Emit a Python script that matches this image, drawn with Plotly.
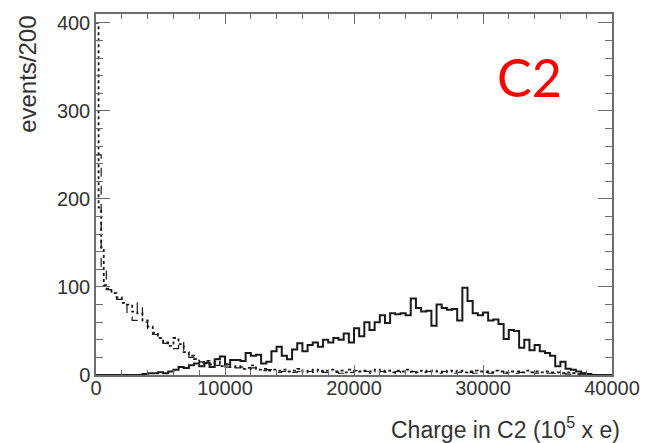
import plotly.graph_objects as go

# ---- data ----
bin_width = 400
solid_counts = [
    0, 0, 0, 0, 0, 0, 0, 0, 0, 1,
    2, 2, 3, 2, 4, 6, 9, 8, 11, 13,
    10, 14, 9, 18, 21, 12, 17, 17, 16, 25,
    22, 23, 13, 15, 27, 32, 22, 18, 29, 36,
    27, 34, 37, 32, 40, 37, 42, 40, 47, 37,
    53, 44, 60, 51, 60, 68, 59, 70, 69, 70,
    68, 87, 76, 72, 73, 56, 80, 76, 74, 75,
    62, 99, 84, 70, 68, 71, 62, 63, 58, 41,
    51, 50, 31, 40, 28, 34, 27, 25, 22, 10,
    15, 7, 6, 4, 2, 1, 0, 0, 0, 0,
]

dotted_edges = [0, 200, 400, 600, 800] + list(range(1200, 40001, 400))
dotted_counts = [
    400, 190, 145, 102,
    98, 93, 88, 82, 80, 72, 70, 62, 55, 48,
    42, 37, 33, 42, 35, 26, 22, 18, 14, 16,
    12, 18, 10, 12, 9, 10, 7, 8, 11, 6,
    7, 5, 6,
    5, 6, 4, 5, 7, 4, 5, 6, 4, 5,
    6, 4, 5, 3, 6, 5, 4, 5, 4, 6,
    4, 5, 3, 5, 4, 6, 4, 3, 5, 4,
    5, 4, 3, 5, 4, 5, 3, 4, 5, 4,
    4, 3, 5, 4, 3, 4, 4, 3, 5, 3,
    4, 3, 4, 3, 3,
    2, 3, 2, 1, 2, 1, 0, 0, 0, 0,
]

dashed_counts = [
    250, 120, 97, 92, 86, 84, 66, 62, 82, 60,
    52, 46, 40, 36, 34, 30, 38, 27, 20, 17,
    15, 13, 14, 11, 15, 9, 11, 8, 9, 6,
    8, 7, 5, 6, 4,
    3, 4, 5, 3, 4, 2, 4, 3, 5, 3,
    4, 3, 2, 4, 3, 5, 3, 4, 2, 3,
    4, 3, 2, 4, 3, 3, 4, 2, 3, 4,
    3, 2, 4, 3, 2, 3, 4, 3, 2, 3,
    3, 2, 3, 4, 2, 3, 2, 3, 2, 3,
    2, 3, 2, 2, 3,
    2, 1, 2, 1, 1, 0, 0, 0, 0, 0,
]

x_tickvals = [0, 10000, 20000, 30000, 40000]
x_ticktext = ["0", "10000", "20000", "30000", "40000"]
y_tickvals = [0, 100, 200, 300, 400]
y_ticktext = ["0", "100", "200", "300", "400"]


def step_xy(edges, counts):
    xs = list(edges)
    ys = list(counts) + [counts[-1]]
    return xs, ys


uniform_edges = [i * bin_width for i in range(len(solid_counts) + 1)]

fig = go.Figure()
for edges, counts, dash, width in [
    (uniform_edges, dashed_counts, "dash", 1.2),
    (dotted_edges, dotted_counts, "dot", 1.8),
    (uniform_edges, solid_counts, "solid", 2.0),
]:
    xs, ys = step_xy(edges, counts)
    fig.add_trace(go.Scatter(
        x=xs, y=ys, mode="lines", line_shape="hv",
        line=dict(color="#1a1a1a", width=width, dash=dash),
        showlegend=False, hoverinfo="skip",
    ))

axcol = "#6e6e6e"
txtfam = "Liberation Sans, Arial, sans-serif"
tickfont = dict(family=txtfam, size=20, color="#333333")

fig.update_layout(
    width=652, height=443,
    margin=dict(l=96, r=32, t=14, b=68),
    paper_bgcolor="white", plot_bgcolor="white",
    xaxis=dict(
        range=[0, 40000], showline=True, linecolor=axcol, linewidth=1.5,
        mirror="allticks", ticks="inside", ticklen=10, tickcolor=axcol, tickwidth=1.2,
        tickvals=x_tickvals, ticktext=x_ticktext, tickfont=tickfont,
        ticklabelstandoff=-6,
        minor=dict(ticks="inside", ticklen=5, dtick=2000, tickcolor=axcol, tickwidth=1.2),
        showgrid=False, zeroline=False,
    ),
    yaxis=dict(
        range=[0, 410], showline=True, linecolor=axcol, linewidth=1.5,
        mirror="allticks", ticks="inside", ticklen=14, tickcolor=axcol, tickwidth=1.2,
        tickvals=y_tickvals, ticktext=y_ticktext, tickfont=tickfont,
        minor=dict(ticks="inside", ticklen=7, dtick=20, tickcolor=axcol, tickwidth=1.2),
        showgrid=False, zeroline=False,
    ),
    annotations=[
        dict(text="events/200", xref="paper", yref="paper", x=-0.133, y=1.0,
             xanchor="center", yanchor="top", textangle=-90, showarrow=False,
             font=dict(family=txtfam, size=24, color="#333333")),
        dict(text="Charge in C2 (10<sup>5</sup> x e)", xref="paper", yref="paper",
             x=1.02, y=-0.147, xanchor="right", yanchor="middle", showarrow=False,
             font=dict(family=txtfam, size=23, color="#333333")),
        dict(text="C2", xref="paper", yref="paper", x=0.84, y=0.825,
             xanchor="center", yanchor="middle", showarrow=False,
             font=dict(family="Lato, Noto Sans, sans-serif", size=52, color="#ff0000")),
    ],
)

fig.write_html("out.html")
